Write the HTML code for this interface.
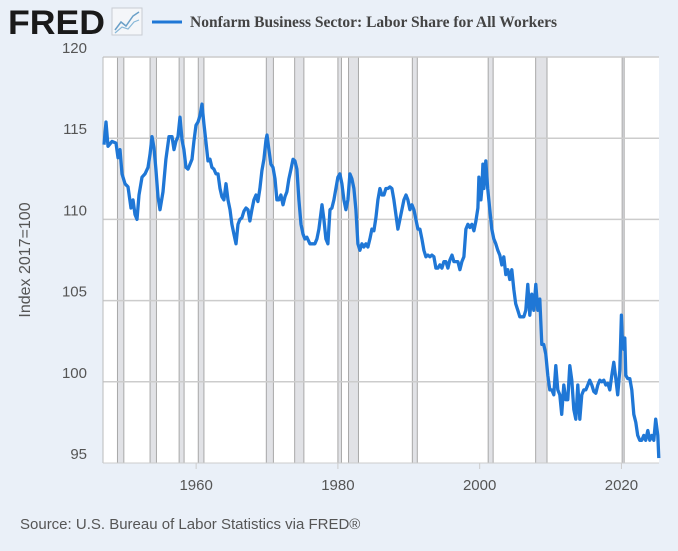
<!DOCTYPE html>
<html><head><meta charset="utf-8"><style>
body{margin:0;background:#eaf0f8;width:678px;height:551px;overflow:hidden;font-family:"Liberation Sans",sans-serif}
svg{display:block}
</style></head><body>
<svg width="678" height="551">
<rect x="0" y="0" width="678" height="551" fill="#eaf0f8"/>
<text x="8" y="34" font-family="Liberation Sans,sans-serif" font-weight="bold" font-size="34" fill="#1a1a1a" textLength="97" lengthAdjust="spacingAndGlyphs">FRED</text>
<g>
<rect x="112" y="8" width="30" height="27" fill="#f4f6f9" stroke="#c8ccd2"/>
<polyline points="115,30 121,22 126,26 133,16 139,12" fill="none" stroke="#6aa0c8" stroke-width="1.5"/>
<polyline points="115,33 122,27 128,29 134,22 139,20" fill="none" stroke="#88b8d8" stroke-width="1.2"/>
</g>
<line x1="152" y1="22" x2="182" y2="22" stroke="#1f77d6" stroke-width="3"/>
<text x="190" y="27" font-family="Liberation Serif,serif" font-weight="bold" font-size="15.5" fill="#444">Nonfarm Business Sector: Labor Share for All Workers</text>
<rect x="103" y="57" width="556" height="406" fill="#fff"/>
<g id="rec"></g>
<g id="grid"></g>
<line x1="103" y1="57" x2="103" y2="463" stroke="#bbb"/>
<line x1="103" y1="463" x2="659" y2="463" stroke="#ccc"/>
<g id="yt"></g><g id="xt"></g>
<path id="line" fill="none" stroke="#1f77d6" stroke-width="3.3" stroke-linejoin="round"/>
<text transform="translate(30,260) rotate(-90)" text-anchor="middle" font-size="16" fill="#555">Index 2017=100</text>
<text x="20" y="529" font-size="15" fill="#555">Source: U.S. Bureau of Labor Statistics via FRED®</text>
</svg>
<script>
const years=[1947.00,1947.28,1947.56,1948.13,1948.69,1948.97,1949.26,1949.54,1949.96,1950.38,1950.81,1951.09,1951.37,1951.65,1951.94,1952.36,1952.78,1953.21,1953.49,1953.77,1954.05,1954.33,1954.62,1954.90,1955.32,1955.74,1956.17,1956.59,1956.87,1957.15,1957.44,1957.72,1958.00,1958.28,1958.57,1958.85,1959.13,1959.41,1959.69,1959.98,1960.26,1960.54,1960.82,1961.10,1961.38,1961.67,1961.95,1962.23,1962.51,1962.80,1963.08,1963.36,1963.64,1963.92,1964.21,1964.49,1964.77,1965.05,1965.33,1965.62,1965.90,1966.18,1966.46,1966.74,1967.03,1967.31,1967.59,1967.87,1968.15,1968.44,1968.72,1969.00,1969.28,1969.56,1969.85,1969.99,1970.27,1970.55,1970.84,1971.12,1971.40,1971.68,1971.96,1972.25,1972.53,1972.81,1973.09,1973.38,1973.66,1973.94,1974.22,1974.50,1974.79,1975.07,1975.35,1975.63,1976.05,1976.48,1976.76,1977.04,1977.32,1977.75,1978.03,1978.31,1978.59,1978.88,1979.16,1979.44,1979.72,1980.00,1980.28,1980.57,1980.85,1981.13,1981.41,1981.69,1981.98,1982.26,1982.54,1982.82,1983.11,1983.39,1983.67,1983.95,1984.23,1984.52,1984.80,1985.08,1985.36,1985.64,1985.93,1986.21,1986.49,1986.77,1987.06,1987.34,1987.62,1987.90,1988.18,1988.47,1988.75,1989.03,1989.31,1989.60,1989.88,1990.16,1990.44,1990.72,1991.01,1991.29,1991.57,1991.85,1992.13,1992.42,1992.70,1992.98,1993.26,1993.55,1993.83,1994.11,1994.39,1994.67,1994.96,1995.24,1995.52,1995.80,1996.09,1996.37,1996.65,1996.93,1997.21,1997.50,1997.78,1998.06,1998.34,1998.62,1998.91,1999.19,1999.47,1999.75,1999.89,2000.17,2000.31,2000.45,2000.59,2000.73,2000.87,2001.14,2001.43,2001.71,2001.99,2002.27,2002.56,2002.84,2003.12,2003.40,2003.68,2003.97,2004.25,2004.53,2004.81,2005.09,2005.38,2005.66,2005.94,2006.22,2006.51,2006.79,2007.07,2007.35,2007.63,2007.92,2008.20,2008.48,2008.76,2009.04,2009.33,2009.61,2009.89,2010.17,2010.46,2010.74,2011.02,2011.30,2011.58,2011.87,2012.15,2012.43,2012.71,2013.00,2013.28,2013.56,2013.84,2014.12,2014.41,2014.69,2014.97,2015.25,2015.53,2015.82,2016.10,2016.38,2016.66,2016.95,2017.23,2017.51,2017.79,2018.07,2018.36,2018.64,2018.92,2019.20,2019.48,2019.77,2020.00,2020.10,2020.33,2020.47,2020.61,2020.89,2021.18,2021.46,2021.74,2022.02,2022.30,2022.59,2022.87,2023.15,2023.43,2023.72,2024.00,2024.28,2024.56,2024.84,2025.13,2025.27];
const values=[114.6,116.0,114.5,114.8,114.7,113.8,114.3,112.8,112.2,112.0,110.7,111.2,110.3,110.0,111.5,112.6,112.8,113.2,114.0,115.1,114.4,113.1,111.4,110.6,111.7,113.7,115.1,115.1,114.3,114.8,115.1,116.3,114.9,114.3,113.2,113.1,113.4,113.7,114.8,115.8,116.0,116.4,117.1,115.9,114.8,113.6,113.7,113.2,113.1,112.8,112.8,111.9,111.4,111.2,112.2,111.2,110.6,109.7,109.1,108.5,109.7,110.0,110.1,110.5,110.7,110.6,109.9,110.6,111.2,111.5,111.1,111.9,113.0,113.7,114.9,115.2,114.3,113.4,113.2,112.5,111.2,111.2,111.5,110.9,111.4,111.7,112.5,113.1,113.7,113.6,113.1,111.2,109.7,109.1,108.8,108.9,108.5,108.5,108.5,108.8,109.4,110.9,110.0,108.8,108.5,110.6,110.7,111.2,111.9,112.6,112.8,112.2,111.2,110.6,111.2,112.8,112.5,111.9,110.6,108.5,108.1,108.5,108.3,108.5,108.3,108.8,109.4,109.3,110.1,111.2,111.9,111.5,111.5,111.9,111.9,112.0,111.9,111.2,110.3,109.4,110.0,110.6,111.2,111.5,111.2,110.6,110.9,110.6,110.0,109.4,109.4,108.8,108.1,107.7,107.8,107.7,107.8,107.7,107.0,107.0,107.2,107.0,107.4,107.4,107.0,107.5,107.8,107.4,107.4,107.4,106.9,107.4,107.7,109.4,109.7,109.5,109.7,109.3,109.9,110.7,112.6,111.2,111.9,113.4,111.9,112.8,113.6,111.9,110.6,109.4,108.8,108.5,108.1,107.8,107.2,107.7,106.6,106.9,106.3,106.9,105.7,104.8,104.4,104.0,104.0,104.0,104.4,106.0,104.1,105.4,104.4,106.0,104.4,105.1,102.3,102.3,101.7,100.4,99.5,99.5,99.2,101.0,99.5,99.2,98.0,99.8,98.9,98.9,101.0,100.1,98.3,97.7,99.8,97.7,99.2,99.5,99.5,99.8,100.1,99.8,99.4,99.3,99.8,100.1,100.0,100.1,99.8,99.9,99.5,100.4,101.2,100.2,99.2,100.7,104.1,102.9,102.0,102.7,100.4,100.2,100.2,99.5,98.0,97.5,96.7,96.4,96.4,96.7,96.4,97.0,96.4,96.7,96.4,97.7,96.7,95.3];
const yTicks=[95,100,105,110,115,120];
const xTicks=[1960,1980,2000,2020];
const recStart=[1948.9,1953.5,1957.6,1960.3,1969.9,1973.9,1980.0,1981.5,1990.5,2001.2,2007.9,2020.1];
const recEnd=[1949.8,1954.4,1958.3,1961.1,1970.9,1975.2,1980.5,1982.9,1991.2,2001.9,2009.5,2020.3];
const NS='http://www.w3.org/2000/svg';
const X0=103,X1=659,Y0=463,Y1=57,T0=1946.86,T1=2025.3,V0=95,V1=120;
function sx(t){return X0+(t-T0)/(T1-T0)*(X1-X0);}
function sy(v){return Y0-(v-V0)/(V1-V0)*(Y0-Y1);}
function mk(tag,at,par){const e=document.createElementNS(NS,tag);for(const k in at)e.setAttribute(k,at[k]);document.getElementById(par).appendChild(e);return e;}
recStart.forEach((s,i)=>{
 const a=sx(s),b=sx(recEnd[i]);
 const r=mk('rect',{x:a,y:Y1,width:Math.max(b-a,2),height:Y0-Y1,fill:'#e1e2e6',stroke:'#a8a8a8','stroke-width':1},'rec');
 
 
});
yTicks.forEach(v=>{
 if(v>V0){const l=mk('line',{x1:X0,x2:X1,y1:sy(v),y2:sy(v),stroke:'#cccccc','stroke-width':1.5},'grid');
 
 }
 const t=mk('text',{x:87,y:sy(v)-4,'text-anchor':'end','font-size':15,fill:'#555'},'yt');
 t.textContent=v;
 
 
});
xTicks.forEach(v=>{
 const l=mk('line',{x1:sx(v),x2:sx(v),y1:Y0,y2:Y0+6,stroke:'#ccc'},'xt');
 
 
 const t=mk('text',{x:sx(v),y:490,'text-anchor':'middle','font-size':15,fill:'#555'},'xt');
 t.textContent=v;
 
 
});
document.getElementById('line').setAttribute('d',years.map((t,i)=>(i?'L':'M')+sx(t).toFixed(1)+','+sy(values[i]).toFixed(1)).join(''));
</script>
</body></html>
